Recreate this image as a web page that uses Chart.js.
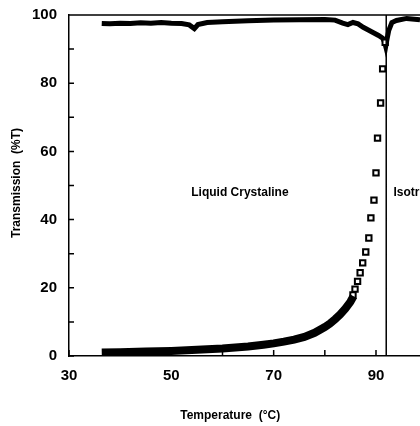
<!DOCTYPE html>
<html>
<head>
<meta charset="utf-8">
<script src="https://cdn.jsdelivr.net/npm/chart.js@4"></script>
<style>
html, body { margin: 0; padding: 0; background: #fff; }
#wrap { width: 420px; height: 426px; }
</style>
</head>
<body>
<div id="wrap"><canvas id="graficoTrasmissione" width="420" height="426"></canvas></div>
<script>
// Temperatura (°C) e trasmissione (%T)
const tempCroci = [36.4, 38, 40, 42, 44, 46, 48, 50, 52, 53.5, 54.5, 55.2, 57, 60, 65, 70, 75, 80, 82, 83.5, 84.5, 85.5, 86.5, 87.5, 88.5, 89.5, 90.5, 91.3, 91.7, 91.9, 92.1, 92.5, 93.1, 94, 96, 98.6];
const transCroci = [97.5, 97.4, 97.6, 97.5, 97.7, 97.6, 97.8, 97.6, 97.5, 97.1, 96.0, 97.2, 97.8, 98.0, 98.3, 98.5, 98.6, 98.7, 98.5, 97.6, 97.2, 97.8, 97.4, 96.4, 95.6, 94.8, 94.0, 93.2, 92.0, 90.8, 92.5, 95.5, 97.8, 98.4, 99.0, 98.6];

const tempBanda = [36.4, 40, 45, 50, 55, 60, 65, 68, 70, 72, 74, 76, 78, 80, 81, 82, 83, 84, 85, 85.6];
const transBanda = [1.0, 1.1, 1.3, 1.5, 1.8, 2.2, 2.8, 3.3, 3.7, 4.2, 4.8, 5.6, 6.8, 8.5, 9.5, 10.8, 12.2, 13.9, 15.9, 17.5];

const tempQuadri = [85.5, 85.9, 86.4, 86.9, 87.4, 88.0, 88.6, 89.0, 89.6, 90.0, 90.3, 90.9, 91.3, 91.8];
const transQuadri = [17.9, 19.6, 21.9, 24.4, 27.3, 30.5, 34.6, 40.5, 45.7, 53.7, 63.9, 74.2, 84.2, 92.0];

const tempTransizione = 92;
const etichetteX = [30, 50, 70, 90];
const etichetteY = [0, 20, 40, 60, 80, 100];

const punti = (xs, ys) => xs.map((x, i) => ({ x: x, y: ys[i] }));

// Tacche interne, bordo superiore, linea di transizione e scritte
const decorazioni = {
    id: 'decorazioni',
    afterDatasetsDraw(chart) {
        const { ctx, chartArea: a, scales: { x, y } } = chart;
        ctx.save();
        ctx.strokeStyle = '#000';
        ctx.lineWidth = 1.5;
        ctx.beginPath();
        x.ticks.forEach(t => {
            const px = x.getPixelForValue(t.value);
            ctx.moveTo(px, a.bottom);
            ctx.lineTo(px, a.bottom - 6);
        });
        y.ticks.forEach(t => {
            const py = y.getPixelForValue(t.value);
            ctx.moveTo(a.left, py);
            ctx.lineTo(a.left + 5, py);
        });
        ctx.moveTo(a.left, a.top);
        ctx.lineTo(a.right, a.top);
        const xt = x.getPixelForValue(tempTransizione);
        ctx.moveTo(xt, a.top);
        ctx.lineTo(xt, a.bottom);
        ctx.stroke();

        ctx.fillStyle = '#000';
        ctx.textBaseline = 'middle';
        ctx.font = 'bold 12px "Liberation Sans", Arial, sans-serif';
        ctx.textAlign = 'center';
        ctx.fillText('Liquid Crystaline', x.getPixelForValue(63.4), y.getPixelForValue(47.8));
        ctx.textAlign = 'left';
        ctx.fillText('Isotropic', x.getPixelForValue(93.4), y.getPixelForValue(47.8));

        ctx.textAlign = 'center';
        ctx.fillText('Temperature  (°C)', x.getPixelForValue(61.5), 416);

        ctx.translate(17, 183);
        ctx.rotate(-Math.PI / 2);
        ctx.fillText('Transmission  (%T)', 0, 0);
        ctx.restore();
    }
};

const ctx = document.getElementById('graficoTrasmissione').getContext('2d');
const grafico = new Chart(ctx, {
    type: 'scatter',
    data: {
        datasets: [
            {
                label: 'Banda',
                data: punti(tempBanda, transBanda),
                showLine: true,
                borderColor: '#000',
                borderWidth: 8,
                borderCapStyle: 'butt',
                pointRadius: 0
            },
            {
                label: 'Quadri',
                data: punti(tempQuadri, transQuadri),
                pointStyle: 'rect',
                pointRadius: 3.8,
                borderWidth: 2,
                borderColor: '#000',
                backgroundColor: '#fff'
            },
            {
                label: 'Croci',
                data: punti(tempCroci, transCroci),
                showLine: true,
                borderColor: '#000',
                borderWidth: 5,
                borderCapStyle: 'butt',
                pointRadius: 0
            }
        ]
    },
    options: {
        responsive: false,
        animation: false,
        devicePixelRatio: 1,
        layout: { autoPadding: false, padding: { top: 15, right: 0, left: 0, bottom: 0 } },
        plugins: { legend: { display: false }, tooltip: { enabled: false } },
        scales: {
            x: {
                type: 'linear',
                min: 30,
                max: 98.6,
                afterFit: s => { s.height = 70; s.paddingLeft = 0; s.paddingRight = 0; },
                grid: { display: false, drawTicks: false },
                border: { display: true, color: '#000', width: 1.5 },
                ticks: {
                    stepSize: 10,
                    includeBounds: false,
                    autoSkip: false,
                    maxRotation: 0,
                    padding: 11,
                    color: '#000',
                    font: { family: '"Liberation Sans", Arial, sans-serif', size: 15, weight: 'bold' },
                    callback: v => etichetteX.includes(v) ? v : ''
                }
            },
            y: {
                min: 0,
                max: 100,
                afterFit: s => { s.width = 69; s.paddingTop = 0; s.paddingBottom = 0; },
                grid: { display: false, drawTicks: false },
                border: { display: true, color: '#000', width: 1.5 },
                ticks: {
                    stepSize: 10,
                    autoSkip: false,
                    padding: 12,
                    color: '#000',
                    font: { family: '"Liberation Sans", Arial, sans-serif', size: 15, weight: 'bold' },
                    callback: v => etichetteY.includes(v) ? v : ''
                }
            }
        }
    },
    plugins: [decorazioni]
});
</script>
</body>
</html>
